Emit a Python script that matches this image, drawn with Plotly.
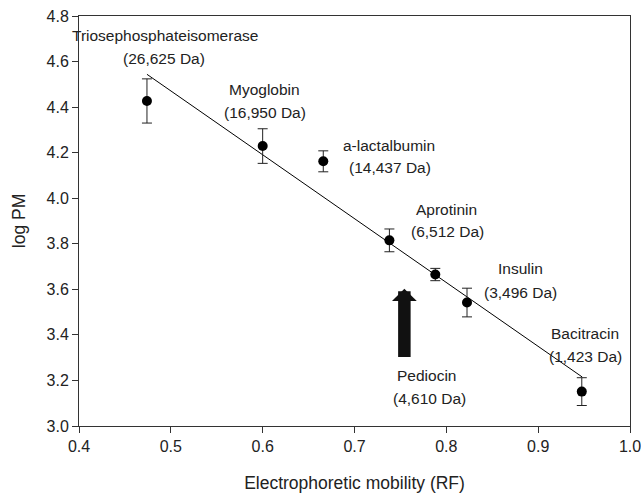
import plotly.graph_objects as go

# Data
mobility = [0.474, 0.600, 0.666, 0.738, 0.788, 0.8225, 0.9475]
log_pm = [4.427, 4.229, 4.162, 3.815, 3.665, 3.542, 3.151]
err = [0.097, 0.076, 0.046, 0.050, 0.027, 0.063, 0.061]

fit_x = [0.474, 0.948]
fit_y = [4.544, 3.215]

names = ["Triosephosphateisomerase", "Myoglobin", "a-lactalbumin", "Aprotinin",
         "Insulin", "Bacitracin", "Pediocin"]
masses = ["(26,625 Da)", "(16,950 Da)", "(14,437 Da)", "(6,512 Da)",
          "(3,496 Da)", "(1,423 Da)", "(4,610 Da)"]
name_pos = [(0.4935, 4.715), (0.6022, 4.478), (0.738, 4.232), (0.800, 3.951),
            (0.8804, 3.692), (0.9511, 3.407), (0.7788, 3.220)]
mass_pos = [(0.4924, 4.614), (0.6022, 4.377), (0.7386, 4.136), (0.801, 3.855),
            (0.8812, 3.587), (0.9518, 3.306), (0.7815, 3.122)]

arrow_x = 0.7543
arrow_tail = 3.296
arrow_tip = 3.603

FONT = "Liberation Sans, Arial, sans-serif"
TXT = "#222222"

fig = go.Figure()
fig.add_trace(go.Scatter(x=fit_x, y=fit_y, mode="lines",
                         line=dict(color="black", width=1), showlegend=False,
                         hoverinfo="skip"))
fig.add_trace(go.Scatter(x=mobility, y=log_pm, mode="markers",
                         marker=dict(color="black", size=10),
                         error_y=dict(type="data", array=err, visible=True,
                                      color="#222222", thickness=1, width=5),
                         showlegend=False))

anns = []
for n, (x, y) in zip(names, name_pos):
    anns.append(dict(x=x, y=y, xref="x", yref="y", text=n, showarrow=False,
                     font=dict(family=FONT, size=15.5, color=TXT)))
for m, (x, y) in zip(masses, mass_pos):
    anns.append(dict(x=x, y=y, xref="x", yref="y", text=m, showarrow=False,
                     font=dict(family=FONT, size=15.5, color=TXT)))
anns.append(dict(x=arrow_x, y=arrow_tip, ax=arrow_x, ay=arrow_tail,
                 xref="x", yref="y", axref="x", ayref="y", text="",
                 showarrow=True, arrowhead=1, arrowsize=0.33, arrowwidth=12.5,
                 arrowcolor="#111111"))

fig.update_layout(
    width=641, height=494,
    margin=dict(l=79, r=11, t=16, b=68, autoexpand=False),
    paper_bgcolor="white", plot_bgcolor="white",
    font=dict(family=FONT, size=16, color=TXT),
    annotations=anns,
    xaxis=dict(range=[0.4, 1.0], dtick=0.1, tick0=0.4, tickformat=".1f",
               automargin=False, ticklabeloverflow="allow",
               showgrid=False, zeroline=False, showline=True, linecolor="#333333",
               linewidth=1, mirror=True, ticks="outside", ticklen=6,
               tickcolor="#333333", tickfont=dict(size=16, color=TXT),
               title=dict(text="Electrophoretic mobility (RF)",
                          font=dict(size=17.5, color=TXT), standoff=22)),
    yaxis=dict(range=[3.0, 4.8], dtick=0.2, tick0=3.0, tickformat=".1f",
               automargin=False, ticklabeloverflow="allow",
               showgrid=False, zeroline=False, showline=True, linecolor="#333333",
               linewidth=1, mirror=True, ticks="outside", ticklen=6,
               tickcolor="#333333", tickfont=dict(size=16, color=TXT),
               title=dict(text="log PM", font=dict(size=17.5, color=TXT),
                          standoff=16)),
)

fig.write_html("out.html")
